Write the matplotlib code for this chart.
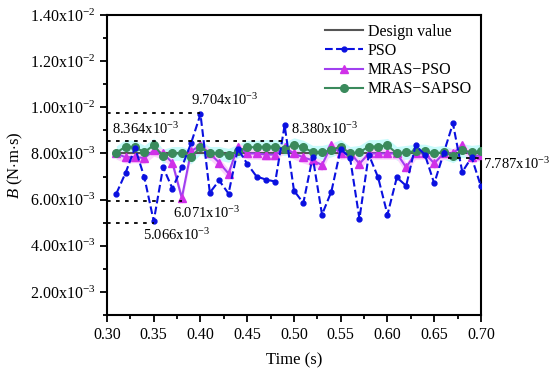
import matplotlib
matplotlib.use('Agg')
import matplotlib.pyplot as plt
import matplotlib.ticker as ticker

plt.rcParams['font.family'] = ['Liberation Serif', 'DejaVu Serif']
plt.rcParams['mathtext.fontset'] = 'custom'
plt.rcParams['mathtext.rm'] = 'Liberation Serif'
plt.rcParams['mathtext.it'] = 'Liberation Serif:italic'

# time (s)
t = [0.31, 0.32, 0.33, 0.34, 0.35, 0.36, 0.37, 0.38, 0.39, 0.40,
     0.41, 0.42, 0.43, 0.44, 0.45, 0.46, 0.47, 0.48, 0.49, 0.50,
     0.51, 0.52, 0.53, 0.54, 0.55, 0.56, 0.57, 0.58, 0.59, 0.60,
     0.61, 0.62, 0.63, 0.64, 0.65, 0.66, 0.67, 0.68, 0.69, 0.70]

# values in 1e-3 N*m*s
design = 8.0
pso = [6.26, 7.17, 8.25, 6.96, 5.066, 7.40, 6.48, 7.40, 8.45, 9.704,
       6.30, 6.83, 6.26, 8.20, 7.55, 7.00, 6.87, 6.78, 9.22, 6.39,
       5.85, 7.85, 5.35, 6.35, 8.20, 7.80, 5.17, 7.95, 6.96, 5.35,
       6.96, 6.60, 8.35, 7.95, 6.70, 8.00, 9.30, 7.20, 7.83, 6.57]
mras_pso = [8.00, 7.83, 7.85, 7.80, 8.13, 8.00, 7.60, 6.071, 8.10, 8.35,
            8.00, 7.60, 7.13, 8.30, 8.00, 8.00, 7.95, 7.95, 8.26, 8.00,
            7.83, 7.70, 7.50, 8.35, 8.00, 8.04, 7.55, 8.00, 8.00, 8.00,
            8.00, 7.40, 8.00, 8.00, 7.57, 8.00, 8.00, 8.35, 7.83, 7.95]
mras_sapso = [8.03, 8.30, 8.27, 8.05, 8.364, 7.88, 8.00, 8.00, 7.85, 8.27,
              8.00, 8.00, 7.92, 8.10, 8.27, 8.27, 8.30, 8.30, 8.20, 8.38,
              8.27, 8.05, 8.05, 8.15, 8.30, 8.00, 8.05, 8.30, 8.30, 8.35,
              8.00, 8.05, 8.10, 8.10, 8.00, 8.05, 7.90, 8.13, 8.05, 8.10]

k = 1e-3
pso_v = [v * k for v in pso]
mp_v = [v * k for v in mras_pso]
ms_v = [v * k for v in mras_sapso]

fig = plt.figure(figsize=(5.5, 3.73), dpi=100)
ax = fig.add_axes([0.1945, 0.1555, 0.68, 0.8043])

# light shading behind the curves
ax.fill_between(t, [v - 0.3 * k for v in ms_v], [v + 0.3 * k for v in ms_v],
                color='#c8fbfb', lw=0, zorder=1)
ax.fill_between(t, [v - 0.25 * k for v in mp_v], [v + 0.2 * k for v in mp_v],
                color='#fcd4fc', lw=0, zorder=1)

ax.plot([0.31, 0.70], [design * k, design * k], color='#555555', lw=1.5,
        label='Design value', zorder=2)
ax.plot(t, pso_v, color='#0a10e0', ls='--', lw=1.5, marker='o', ms=3.5,
        label='PSO', zorder=5)
ax.plot(t, mp_v, color='#a040f0', lw=1.5, marker='^', ms=6,
        mfc='#d030e8', mec='#d030e8', label='MRAS\u2212PSO', zorder=3)
ax.plot(t, ms_v, color='#3a8a5c', lw=1.5, marker='o', ms=5.5,
        mfc='#3a8a5c', mec='#3a8a5c', label='MRAS\u2212SAPSO', zorder=4)

# annotations
dot = dict(color='black', ls=(0, (2, 3)), lw=1.3, zorder=6)
ax.plot([0.30, 0.40], [9.75 * k, 9.75 * k], **dot)
ax.plot([0.30, 0.49], [8.55 * k, 8.55 * k], **dot)
ax.plot([0.30, 0.38], [5.92 * k, 5.92 * k], **dot)
ax.plot([0.30, 0.35], [5.0 * k, 5.0 * k], **dot)
ax.plot([0.665, 0.70], [7.80 * k, 7.80 * k], **dot)
fs = 10.5
ax.text(0.390, 9.95 * k, r'9.704x10$^{-3}$', fontsize=fs, ha='left', va='bottom')
ax.text(0.305, 8.70 * k, r'8.364x10$^{-3}$', fontsize=fs, ha='left', va='bottom')
ax.text(0.497, 8.70 * k, r'8.380x10$^{-3}$', fontsize=fs, ha='left', va='bottom')
ax.text(0.371, 5.75 * k, r'6.071x10$^{-3}$', fontsize=fs, ha='left', va='top')
ax.text(0.338, 4.80 * k, r'5.066x10$^{-3}$', fontsize=fs, ha='left', va='top')
ax.text(0.702, 7.55 * k, r'7.787x10$^{-3}$', fontsize=fs, ha='left', va='center',
        clip_on=False)

ax.set_xlim(0.30, 0.70)
ax.set_ylim(1e-3, 1.4e-2)
ax.xaxis.set_major_locator(ticker.MultipleLocator(0.05))
ax.xaxis.set_minor_locator(ticker.MultipleLocator(0.025))
ax.yaxis.set_major_locator(ticker.FixedLocator([2e-3, 4e-3, 6e-3, 8e-3, 1e-2, 1.2e-2, 1.4e-2]))
ax.yaxis.set_minor_locator(ticker.MultipleLocator(1e-3))


def yfmt(v, pos):
    if v >= 9.99e-3:
        return r'%.2fx10$^{-2}$' % (v * 100)
    return r'%.2fx10$^{-3}$' % (v * 1000)


ax.yaxis.set_major_formatter(ticker.FuncFormatter(yfmt))
ax.xaxis.set_major_formatter(ticker.FormatStrFormatter('%.2f'))
ax.tick_params(which='both', direction='out', top=False, right=False,
               labelsize=11.5, width=1.3)
ax.tick_params(which='major', length=5)
ax.tick_params(which='minor', length=3)
for s in ax.spines.values():
    s.set_linewidth(1.5)

ax.set_xlabel('Time (s)', fontsize=12, labelpad=7)
ax.set_ylabel(r'$\it{B}$ (N$\cdot$m$\cdot$s)', fontsize=12, labelpad=3)

ax.legend(loc='upper right', frameon=False, fontsize=11.5, handlelength=2.4,
          borderaxespad=0.15, labelspacing=0.2, handletextpad=0.3)

fig.savefig('out.png', dpi=100)
